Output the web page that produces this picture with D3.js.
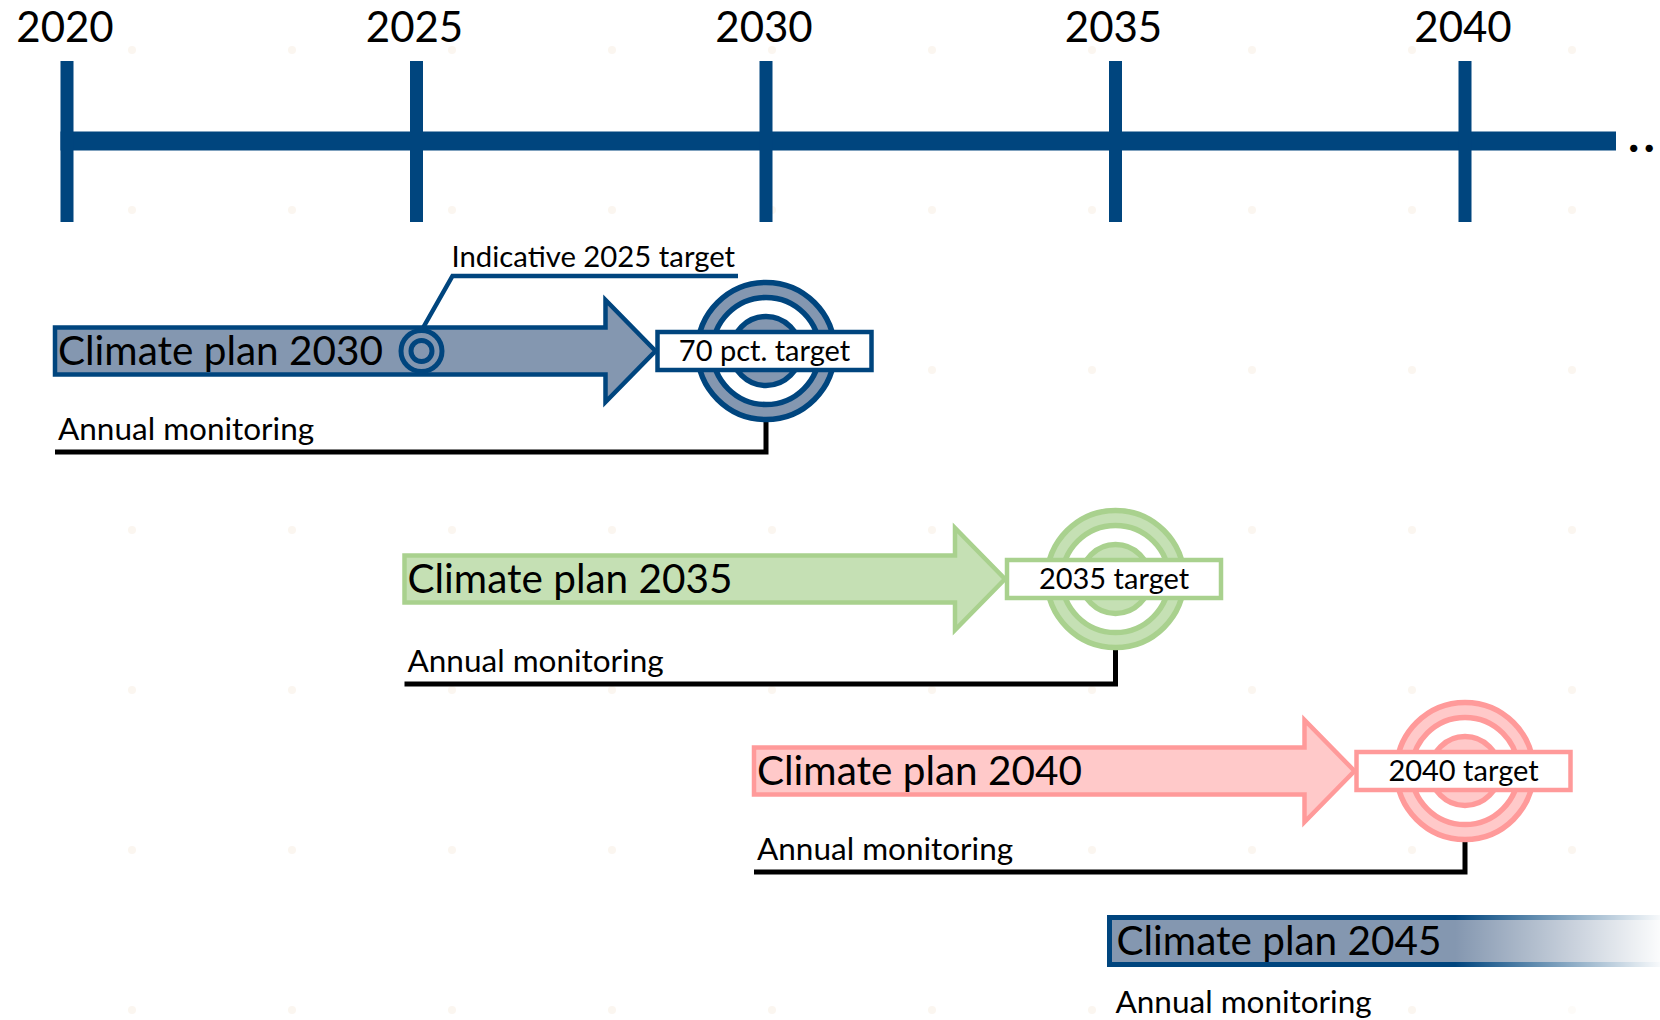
<!DOCTYPE html>
<html>
<head>
<meta charset="utf-8">
<script src="https://cdn.jsdelivr.net/npm/d3@7"></script>
<style>
  html, body { margin: 0; padding: 0; background: #ffffff; }
  svg { display: block; }
  text { font-family: Lato, "Open Sans", sans-serif; fill: #000; }
</style>
</head>
<body>
<svg id="chart" width="1660" height="1020"></svg>
<script>
// ---------------- data ----------------
const years = [2020, 2025, 2030, 2035, 2040];
const planNames = ["Climate plan 2030", "Climate plan 2035", "Climate plan 2040", "Climate plan 2045"];
const planStart = [2020, 2025, 2030, 2035];
const planTarget = [2030, 2035, 2040, null];
const targetLabels = ["70 pct. target", "2035 target", "2040 target", null];
const monitoringLabels = ["Annual monitoring", "Annual monitoring", "Annual monitoring", "Annual monitoring"];
const milestoneYears = [2025];
const milestoneLabels = ["Indicative 2025 target"];
const continuationLabel = "..";

// ---------------- styles ----------------
const palette = [
  { fill: "#8497b0", stroke: "#00457e" },
  { fill: "#c5e0b4", stroke: "#a9d18e" },
  { fill: "#ffc9c9", stroke: "#ff9a9a" },
  { fill: "#8497b0", stroke: "#00457e" }
];
const axisBlue = "#00457e";

const svg = d3.select("#chart");
const W = 1660, H = 1020;

// faint background grid dots
const gridX = d3.range(132, W, 160);
const gridY = d3.range(50, H, 160);
svg.append("g").selectAll("circle")
  .data(d3.cross(gridX, gridY))
  .join("circle")
  .attr("cx", d => d[0]).attr("cy", d => d[1]).attr("r", 4)
  .attr("fill", "#fbf6f0");

// ---------------- scales ----------------
const x = d3.scaleLinear().domain([2020, 2040]).range([67, 1465]);
const rowY = d3.scaleOrdinal().domain(planNames).range([351, 579, 771, 941]);
const monitorGap = d3.scaleOrdinal().domain(planNames).range([101, 105, 101, 0]);

// ---------------- timeline ----------------
const axisY = 141;
const tl = svg.append("g");
tl.append("rect")
  .attr("x", x(2020) - 6.5).attr("y", axisY - 9.5)
  .attr("width", 1616 - (x(2020) - 6.5)).attr("height", 19)
  .attr("fill", axisBlue);
tl.selectAll("rect.tick").data(years).join("rect")
  .attr("class", "tick")
  .attr("x", d => x(d) - 6.5).attr("y", 61)
  .attr("width", 13).attr("height", 161)
  .attr("fill", axisBlue);
tl.selectAll("text.year").data(years).join("text")
  .attr("class", "year")
  .attr("x", d => x(d) - 2).attr("y", 42)
  .attr("text-anchor", "middle")
  .attr("font-size", 42)
  .text(d => d);
tl.append("text")
  .attr("x", 1628).attr("y", 152)
  .attr("font-size", 48)
  .attr("font-weight", 700)
  .attr("letter-spacing", 4)
  .text(continuationLabel);

// ---------------- plans ----------------
const plans = planNames.map((name, i) => ({
  name, start: planStart[i], target: planTarget[i],
  targetLabel: targetLabels[i], monitoring: monitoringLabels[i], style: palette[i]
}));

const boxW = 214, boxH = 38;
const bodyHalf = 23.5, headHalf = 51, headLen = 50;

function arrowPath(x0, x1, cy) {
  return `M${x0},${cy - bodyHalf}L${x1 - headLen},${cy - bodyHalf}L${x1 - headLen},${cy - headHalf}` +
         `L${x1},${cy}L${x1 - headLen},${cy + headHalf}L${x1 - headLen},${cy + bodyHalf}L${x0},${cy + bodyHalf}Z`;
}

const g = svg.append("g");

plans.forEach((p, i) => {
  const cy = rowY(p.name);
  const x0 = x(p.start) - 12;
  const row = g.append("g");

  if (p.target !== null) {
    const tx = x(p.target);
    const tip = tx - 1.5 - boxW / 2 - 2;
    const gap = monitorGap(p.name);

    // monitoring connector
    row.append("path")
      .attr("d", `M${x0},${cy + gap}H${tx}V${cy + 69}`)
      .attr("fill", "none").attr("stroke", "#000").attr("stroke-width", 5);
    row.append("text")
      .attr("x", x0 + 3).attr("y", cy + gap - 12)
      .attr("font-size", 31.5)
      .text(p.monitoring);

    // target rings
    [[68.5, p.style.fill], [53.5, "#ffffff"], [34.5, p.style.fill]].forEach(([r, f]) => {
      row.append("circle")
        .attr("cx", tx).attr("cy", cy).attr("r", r)
        .attr("fill", f).attr("stroke", p.style.stroke).attr("stroke-width", 5.5);
    });

    // arrow
    row.append("path")
      .attr("d", arrowPath(x0, tip, cy))
      .attr("fill", p.style.fill).attr("stroke", p.style.stroke)
      .attr("stroke-width", 4.5).attr("stroke-linejoin", "miter");

    // target label box
    row.append("rect")
      .attr("x", tx - 1.5 - boxW / 2).attr("y", cy - boxH / 2)
      .attr("width", boxW).attr("height", boxH)
      .attr("fill", "#fff").attr("stroke", p.style.stroke).attr("stroke-width", 4.5);
    row.append("text")
      .attr("x", tx - 1.5).attr("y", cy + 10)
      .attr("text-anchor", "middle")
      .attr("font-size", 29)
      .text(p.targetLabel);
  } else {
    // open-ended plan bar, fading out
    row.append("rect")
      .attr("x", x0 + 6).attr("y", cy - bodyHalf)
      .attr("width", W + 20 - x0).attr("height", bodyHalf * 2)
      .attr("fill", p.style.fill).attr("stroke", p.style.stroke).attr("stroke-width", 5);
    row.append("text")
      .attr("x", x0 + 12).attr("y", cy + 72)
      .attr("font-size", 31.5)
      .text(p.monitoring);
  }

  row.append("text")
    .attr("x", x0 + 3 + (p.target === null ? 10 : 0)).attr("y", cy + 14)
    .attr("font-size", 40.5)
    .text(p.name);
});

// indicative milestone on first plan
const p0 = plans[0];
milestoneYears.forEach((yr, i) => {
  const cx = x(yr) + 5, cy = rowY(p0.name);
  const m = g.append("g");
  m.append("path")
    .attr("d", `M${cx + 2},${cy - 24}L${cx + 31},${cy - 75}H${x(2030) - 28}`)
    .attr("fill", "none").attr("stroke", p0.style.stroke).attr("stroke-width", 4.5);
  m.append("circle").attr("cx", cx).attr("cy", cy).attr("r", 20.5)
    .attr("fill", p0.style.fill).attr("stroke", p0.style.stroke).attr("stroke-width", 5);
  m.append("circle").attr("cx", cx).attr("cy", cy).attr("r", 10.5)
    .attr("fill", p0.style.fill).attr("stroke", p0.style.stroke).attr("stroke-width", 5);
  m.append("text")
    .attr("x", cx + 30).attr("y", cy - 84)
    .attr("font-size", 29.3)
    .text(milestoneLabels[i]);
});

// fade-out overlay on the right
const defs = svg.append("defs");
const grad = defs.append("linearGradient").attr("id", "fade").attr("x1", 0).attr("x2", 1).attr("y1", 0).attr("y2", 0);
grad.append("stop").attr("offset", "0%").attr("stop-color", "#fff").attr("stop-opacity", 0);
grad.append("stop").attr("offset", "100%").attr("stop-color", "#fff").attr("stop-opacity", 0.97);
svg.append("rect")
  .attr("x", 1455).attr("y", 890).attr("width", W - 1455).attr("height", H - 890)
  .attr("fill", "url(#fade)");
</script>
</body>
</html>
